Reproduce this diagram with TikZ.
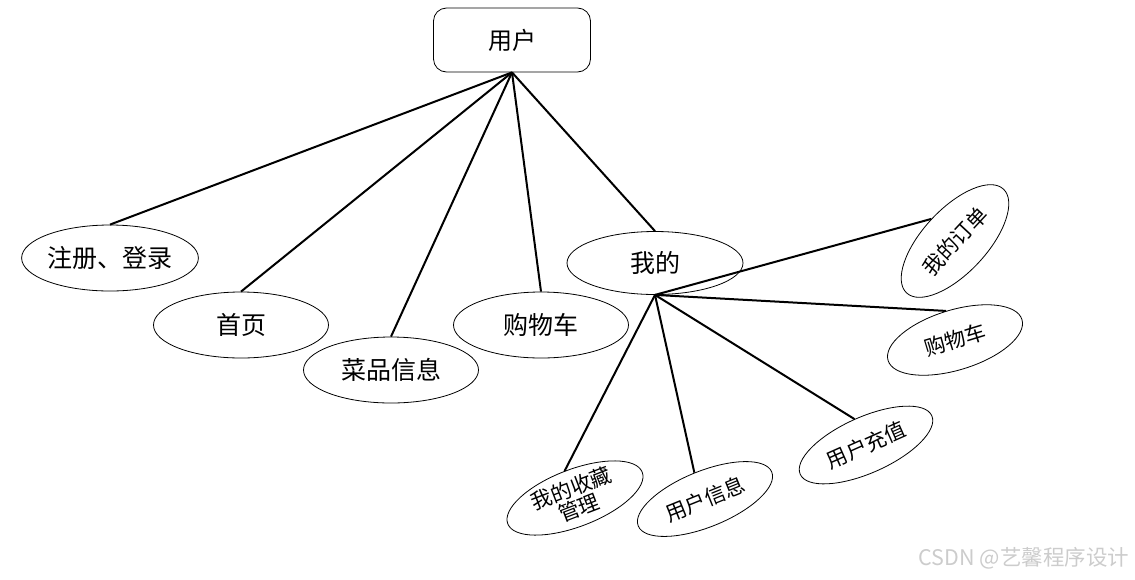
\documentclass[tikz,border=0pt]{standalone}
\usepackage{fontspec}
\newfontfamily\cjk{Noto Sans CJK SC}
\usepackage{tikz}
\usetikzlibrary{shapes.geometric}

\begin{document}
\begin{tikzpicture}[x=1pt, y=-1pt,
      root/.style={rectangle, draw, rounded corners=13pt, line width=0.8pt, minimum width=157pt, minimum height=64pt, font=\cjk\fontsize{24}{26}\selectfont},
      item/.style={ellipse, draw, line width=0.8pt, inner sep=0pt, minimum width=175pt, minimum height=66pt, font=\cjk\fontsize{25}{27}\selectfont},
      sub/.style={ellipse, draw, line width=0.8pt, inner sep=0pt, minimum width=144pt, minimum height=56pt, align=center, font=\cjk\fontsize{21}{23}\selectfont},
      link/.style={line width=2pt}]

      \useasboundingbox (0,0) rectangle (1135,579);

      \node[root] (user) at (512,40) {用户};

      \node[item] (reg) at (110,258) {注册、登录};
      \node[item] (home) at (241,325) {首页};
      \node[item] (dish) at (391,370) {菜品信息};
      \node[item] (cart) at (541,325) {购物车};
      \node[item, minimum width=176pt, minimum height=63pt] (mine) at (655,263) {我的};

      \node[sub, rotate=47, minimum width=142pt, minimum height=64pt] (order) at (955,241) {我的订单};
      \node[sub, rotate=17, minimum width=140pt, minimum height=60pt] (cart2) at (955,340) {购物车};
      \node[sub, rotate=21, font=\cjk\fontsize{21}{21}\selectfont] (fav) at (575,498) {我的收藏\\管理};
      \node[sub, rotate=22] (info) at (705,499) {用户信息};
      \node[sub, rotate=24] (recharge) at (866,445) {用户充值};

      % Lines
      \foreach \n in {reg, home, dish, cart, mine} {
        \draw[link] (user.south) -- (\n.north);
      }
      \foreach \n in {order, cart2, fav, info, recharge} {
        \draw[link] (mine.south) -- (\n.north);
      }

      \node[text=gray!40, font=\cjk\fontsize{21.5}{23}\selectfont] (mark) at (1024,558) {CSDN @艺馨程序设计};
    \end{tikzpicture}
\end{document}
